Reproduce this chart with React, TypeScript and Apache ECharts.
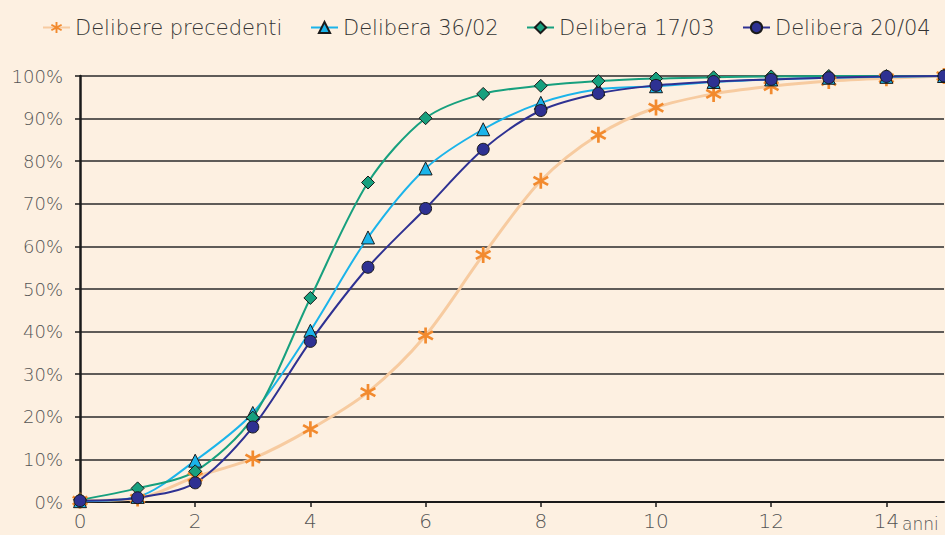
import React, { useEffect, useRef } from "react";
import * as echarts from "echarts";

const years = [0, 1, 2, 3, 4, 5, 6, 7, 8, 9, 10, 11, 12, 13, 14, 15];
const seriesNames = ["Delibere precedenti", "Delibera 36/02", "Delibera 17/03", "Delibera 20/04"];
const precedenti = [0.3, 0.8, 5.9, 10.2, 17.1, 25.8, 39.1, 58.0, 75.4, 86.2, 92.6, 95.8, 97.6, 98.8, 99.5, 100];
const del3602 = [0.2, 1.2, 9.7, 20.9, 40.2, 62.1, 78.3, 87.5, 93.7, 96.9, 97.6, 98.6, 99.2, 99.6, 99.8, 100];
const del1703 = [0.5, 3.2, 7.2, 19.8, 47.9, 75.0, 90.1, 95.8, 97.7, 98.8, 99.4, 99.7, 99.9, 100, 100, 100];
const del2004 = [0.3, 1.0, 4.5, 17.6, 37.7, 55.1, 68.9, 82.8, 91.9, 95.9, 97.8, 98.7, 99.2, 99.6, 99.9, 100];
const yTicks = [0, 10, 20, 30, 40, 50, 60, 70, 80, 90, 100];

const STAR =
  "path://M-1.6,-10 L1.6,-10 L1.6,10 L-1.6,10 Z M-9.46,-3.61 L-7.86,-6.39 L9.46,3.61 L7.86,6.39 Z M7.86,-6.39 L9.46,-3.61 L-7.86,6.39 L-9.46,3.61 Z";

const FONT = "DejaVu Sans";
const BG = "#FDF0E1";
const legendLefts = [37, 305, 521, 737];

function pairs(vals: number[]) {
  return years.map((x, i) => [x, vals[i]]);
}

export default function App() {
  const ref = useRef<HTMLDivElement>(null);
  useEffect(() => {
    if (!ref.current) return;
    const chart = echarts.init(ref.current, null, { renderer: "svg" });
    const common = {
      type: "line",
      smooth: 0.3,
      showAllSymbol: true,
    };
    chart.setOption({
      animation: false,
      backgroundColor: BG,
      textStyle: { fontFamily: FONT },
      legend: seriesNames.map((n, i) => ({
        left: legendLefts[i],
        top: 12,
        itemWidth: 27,
        itemHeight: 14,
        textStyle: { fontSize: 21, color: "#333", fontFamily: FONT, fontWeight: 200 },
        data: [n],
      })),
      grid: { left: 80, right: 1, top: 76, bottom: 33, containLabel: false },
      xAxis: {
        type: "value",
        min: 0,
        max: 15,
        interval: 2,
        axisLine: { lineStyle: { color: "#1a1a1a", width: 2 } },
        axisTick: { show: true, length: 5, lineStyle: { color: "#1a1a1a", width: 1.5 } },
        axisLabel: {
          showMaxLabel: false,
          margin: 9,
          fontSize: 20,
          color: "#555",
          fontFamily: FONT,
          fontWeight: 200,
        },
        splitLine: { show: false },
      },
      yAxis: {
        type: "value",
        min: 0,
        max: 100,
        interval: 10,
        axisLine: { show: true, lineStyle: { color: "#1a1a1a", width: 2.5 } },
        axisTick: { show: true, length: 5, lineStyle: { color: "#1a1a1a", width: 1.5 } },
        axisLabel: {
          formatter: (v: number) => (yTicks.includes(v) ? v + "%" : ""),
          margin: 17,
          fontSize: 18,
          color: "#555",
          fontFamily: FONT,
          fontWeight: 200,
        },
        splitLine: { show: true, lineStyle: { color: "#2a2a2a", width: 1.5 } },
      },
      graphic: [
        {
          type: "text",
          left: 902,
          top: 515,
          style: { text: "anni", fontSize: 17, fill: "#555", fontFamily: FONT, fontWeight: 200 },
        },
      ],
      series: [
        {
          ...common,
          name: seriesNames[0],
          data: pairs(precedenti),
          symbol: STAR,
          symbolSize: 16,
          lineStyle: { color: "#F7CBA0", width: 3 },
          itemStyle: { color: "#F28A2E" },
        },
        {
          ...common,
          name: seriesNames[1],
          data: pairs(del3602),
          symbol: "triangle",
          symbolSize: 13,
          lineStyle: { color: "#1BB4EA", width: 2 },
          itemStyle: { color: "#1BB4EA", borderColor: "#1a1a1a", borderWidth: 1 },
        },
        {
          ...common,
          name: seriesNames[2],
          data: pairs(del1703),
          symbol: "diamond",
          symbolSize: 13,
          lineStyle: { color: "#17A07E", width: 2 },
          itemStyle: { color: "#17A07E", borderColor: "#1a1a1a", borderWidth: 1 },
        },
        {
          ...common,
          name: seriesNames[3],
          data: pairs(del2004),
          symbol: "circle",
          symbolSize: 12,
          lineStyle: { color: "#2E3192", width: 2 },
          itemStyle: { color: "#2E3192", borderColor: "#1a1a1a", borderWidth: 1 },
        },
      ],
    });
    return () => chart.dispose();
  }, []);
  return <div ref={ref} style={{ width: 945, height: 535, position: "absolute", left: 0, top: 0 }} />;
}
